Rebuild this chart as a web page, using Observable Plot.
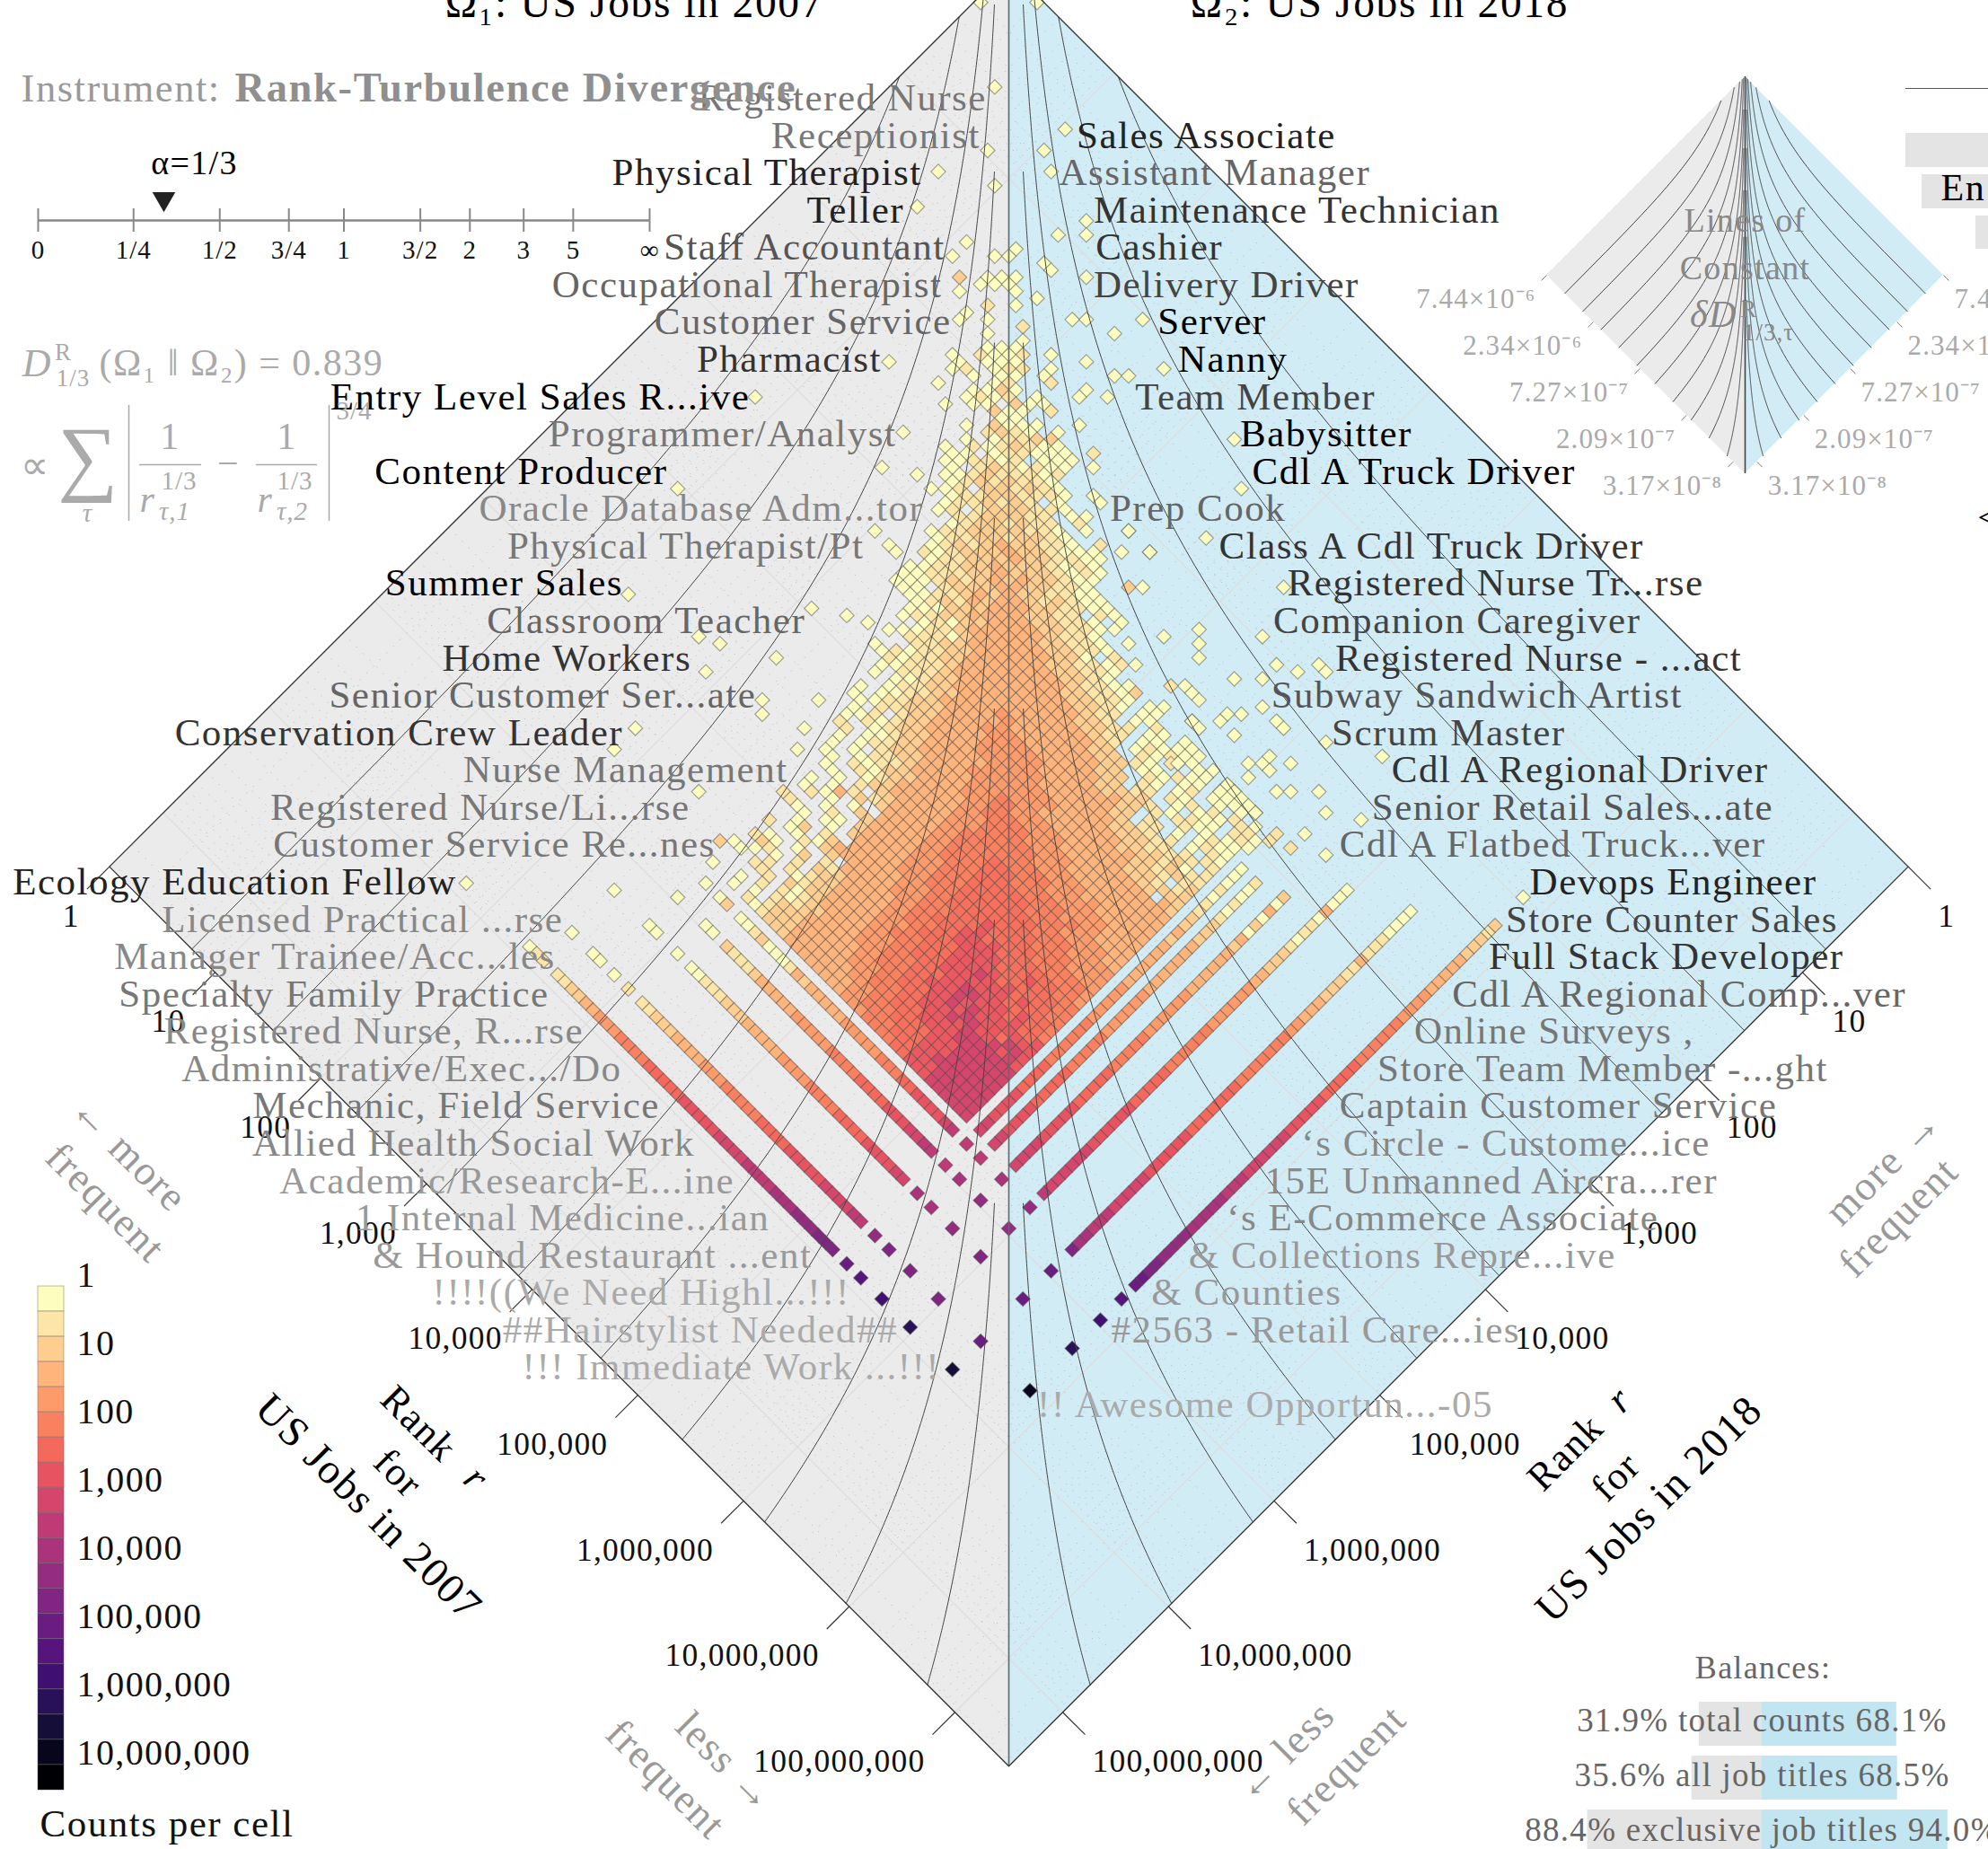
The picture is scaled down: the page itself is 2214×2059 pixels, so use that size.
<!DOCTYPE html>
<html><head><meta charset="utf-8">
<style>
html,body{margin:0;padding:0;background:#fff;overflow:hidden}
svg text{letter-spacing:.035em}
</style>
<script src="https://cdn.jsdelivr.net/npm/d3@7"></script>
<script src="https://cdn.jsdelivr.net/npm/@observablehq/plot@0.6"></script>
</head><body>
<script>
// ---------- geometry of the log-log rank plane (15 bins per decade) ----------
const maxLog = 8.51, binsPerDecade = 15;
// ---------- counts-per-cell levels read by rows: [rank-sum bin, first rank-difference bin, levels] ----------
const rows = [
[5,-4,"0...0"],[17,-2,"0"],[23,8,"0"],[26,-3,"0...0"],[29,-10,"0.......0"],[31,-2,"0"],[34,-13,"0"],[36,11,"0"],[38,7,"0.0"],[39,-6,"0"],[40,1,"0"],[41,-8,"0..00"],[42,5,"0"],[43,6,"0"],
[44,-7,"2.000....0"],[45,-4,"000"],[46,-7,"0...0"],[47,4,"0"],[48,-3,"1.0"],[49,-6,"0"],[50,-7,"0.0.....00...0"],[51,2,"1"],[52,-3,"0........0"],[53,2,"0"],[54,-3,"000"],[55,-8,"0.1001.0"],
[56,-17,"0....0.000....0"],[57,-8,"01.011.0.......0"],[58,-5,"0.00.0....00"],[59,-10,"0...01..1"],[60,-5,"0020....0"],[61,-6,"0101.0..0.0"],[62,-9,"0.00.200"],[63,-2,"200.1"],[64,-1,"00"],[65,-6,"0.2000..0"],
[66,-15,"0.....1210.0"],[67,-6,"0.01122"],[68,-9,"0.1012100"],[69,-8,"00.011000.1"],[70,-9,"001101.000"],[71,-18,"0....0.1210100.0"],[72,-13,"0.001211101"],[73,-8,"01212110"],[74,-11,"001.221210"],
[75,-8,"011221110.0"],[76,-9,"0112121.0..0"],[77,-10,"01.1222110"],[78,-7,"1122211.00"],[79,-8,"01221211.1"],[80,-19,"0...0112222110.0..0"],[81,-10,"0112212210"],[82,-17,"0..01212322110.1"],
[83,-16,"0.1012223221000.0.0"],[84,-11,"0112223221100"],[85,-14,"00112232221010"],[86,-15,"001112232221010"],[87,-16,"000121232322100"],[88,-15,"00.12223322110..20"],[89,-14,"00112323221100"],
[90,-13,"01213233212100"],[91,-14,"000222333221100"],[92,-15,"0112233332211.10"],[93,-12,"0102234322110.0"],[94,-17,"00011233333221100"],[95,-14,"11102333332110"],[96,-19,"0..11223334322110"],
[97,-18,"01011223343322110"],[98,-17,"101122344333220.1"],[99,-18,"0011123334432211010"],[100,-19,"0.1112334443322110"],[101,-16,"0012233443332210"],[102,-21,"0.011223344433321100"],
[103,-22,"0.0011223344433221102"],[104,-21,"00112233444443322110"],[105,-22,"0.112223344444332210.00"],[106,-23,"001.1223344544333211.00"],[107,-24,"1.101223344454433221.00..0"],[108,-23,"1.0122334455444332211.1"],
[109,-24,"0.0012233445544433211.00"],[110,-25,"0.0112233445554443321.00.0"],[111,-26,"0.0.12233445555444322.01000"],[112,-25,"0.0112233445555443322.10100"],[113,-26,"0.1011233444555544332210.10"],
[114,-25,"0.1022334455555443322.00..0"],[115,-28,"0.0.0122334455555443322.10100"],[116,-29,"0.0.1223344455555443322.10.00.0"],[117,-32,"1.1031.23334455555544332211.01.00"],[118,-31,"1..0.212333445565554443322.10.00"],
[119,-30,"0.0.0.23334455665554433221.01.00"],[120,-29,"0.1.2.333445566554443322.10.01.10"],[121,-34,"1.0.00.2333445556655444332.1.11001"],[122,-31,"02.0.2334445556665544332211.100.10"],
[123,-36,"10.0.1.2334445566666554433221.0.0.11"],[124,-35,"20.102.33444556666655544332211.01010"],[125,-36,"01.0.2333444556666665544332211.01000"],[126,-33,"0.2.23344455666666655443332211.10"],
[127,-36,"11.1.1.344455566676655544332212110"],[128,-35,"1.1.213344555666776655443322120.1"],[129,-38,"0.1.012233445566677766554433221211"],[130,-39,"0.1.212233445566677766655443321.11"],
[131,-36,"0.102233445556677776655544332212"],[132,-37,"1.101233344556677777665544333.22"],[133,-36,"0121233344556677777766555443332"],[134,-35,"122223344556667777766655443332"],
[135,-34,"22233444556677777776655544433"],[136,-33,"2233344555667778777666554433"],[137,-32,"233344556677788777665554433"],[138,-31,"33344555667788777766554433"],[139,-30,"3344455667778887766655444"],
[140,-29,"334455667778887776655544"],[141,-28,"34455666778888776665544"],[142,-27,"4445566778888777665554"],[143,-26,"445566777889877766555"],[144,-25,"44566778888877876655"],[145,-24,"4556677889888777665"],
[146,-23,"556677889988777665"],[147,-22,"56677889888787765"],[148,-21,"5667788898877766"],[149,-20,"667788998878766"],[150,-19,"66778889888776"],[151,-18,"6777889888776"],[152,-17,"677889987876"],
[153,-16,"77888999988"],[154,-15,"7888999898"],[155,-14,"889999998"],[156,-13,"88999998"],[157,-12,"8999999"],[158,-11,"999999"],[159,-10,"99999"],[160,-9,"9999"],[161,-8,"999"],[162,-7,"99"],[163,-6,"9"]
];
// read level -> colour-bar position, calibrated against the colour bar
const rowLevelStep = [0,1,2,3,3,4,5,5.7,6.7,8];
// isolated cells: [rank-difference bin, rank-sum bin, level]
const looseCells = [
[-36,61,0],[-47,74,0],[-54,89,0],[-28,91,0],[-23,92,0],[-20,93,0],[-44,95,0],[-41,96,0],[-33,98,0],[-43,100,0],[-35,104,0],[-35,106,0],[-27,104,0],[-53,108,0],[-29,108,0],[-56,111,0],[-30,111,0],[-44,117,0],
[-42,127,0],[-43,130,0],[-39,124,0],[-41,124,2],[-38,125,0],
[32,67,0],[33,74,0],[28,81,0],[17,80,0],[20,83,0],[39,88,0],[22,95,0],[27,94,0],[27,96,0],[27,98,0],[36,95,0],[17,96,0],[38,99,0],[41,100,0],[44,99,0],[45,100,0],[32,101,0],[36,101,0],
[25,102,0],[23,102,1],[26,103,0],[27,104,0],[36,105,0],[33,106,0],[31,106,0],[30,107,0],[38,107,0],[39,108,0],[26,107,0],[27,108,0],[32,109,0],[45,110,0],[34,113,0],[36,113,0],[40,113,0],[37,112,0],[37,114,0],[34,115,0],
[38,117,0],[40,117,0],[31,116,0],[30,117,0],[32,117,0],[33,118,0],[31,118,0],[34,119,0],[32,119,0],[33,120,0],[35,120,0],[30,121,0],[29,114,0],[28,115,0],[23,113,1],[24,113,0]
];
// tied-rank stripes. rank 2018 bin fixed: [bin, first rank-2007 bin, levels]
const stripes2018 = [
[103,26,"0........011"],[103,39,"1122334445555666667777788889999aaabbbccc"],
[99,37,"0..00.0.1"],[99,47,"11222333344455555666677777888899"],
[93,37,"0....00..0"],[93,48,"0011122233333444455556666777788"],
[89,42,"0...00"],[89,49,"211123333344444555566667778899"],
[86,45,"02"],[86,48,"0012000132333334444455566777789"]
];
// rank 2007 bin fixed: [bin, first rank-2018 bin, levels]
const stripes2007 = [
[102,29,"0"],[102,33,"212223333344445555556666677777888888999aaaaabbbbccdd"],
[95,38,"0000111311222333445555555666666677777788888999aa"],
[89,41,"00030110122233444444555555666667777778888889"],
[85,35,"0....0...."],[85,46,"203020323333334444445555566666777778888"],
[82,29,"0.......0..0.1."],[82,47,"10010122233333334444445555566666777788"],
[80,36,"0.....11...."],[80,47,"00010112232333333444445555556666777788"]
];
// cells tied in both ranks
const cornerBin2018 = [86,86,89,89,86,93,93,89,86,93,89,99,99,93,86,99,99,99,93,89,103,103,103,103,103,86,89,93,99];
const cornerBin2007 = [80,82,80,82,85,80,82,85,89,85,89,80,82,89,95,85,89,95,95,95,80,82,85,89,95,102,102,102,102];
const cornerLevel   = [ 9, 9, 9,10,10,10,10,11,11,11,11,11,12,12,12,12,12,13,13,13,13,14,15,16,17,14,15,16,18];

// job titles
const leftTitles = ["Registered Nurse","Receptionist","Physical Therapist","Teller","Staff Accountant","Occupational Therapist","Customer Service","Pharmacist","Entry Level Sales R...ive","Programmer/Analyst","Content Producer","Oracle Database Adm...tor","Physical Therapist/Pt","Summer Sales","Classroom Teacher","Home Workers","Senior Customer Ser...ate","Conservation Crew Leader","Nurse Management","Registered Nurse/Li...rse","Customer Service Re...nes","Ecology Education Fellow","Licensed Practical ...rse","Manager Trainee/Acc...les","Specialty Family Practice","Registered Nurse, R...rse","Administrative/Exec.../Do","Mechanic, Field Service","Allied Health Social Work","Academic/Research-E...ine","1 Internal Medicine...ian","& Hound Restaurant ...ent","!!!!((We Need Highl...!!!","##Hairstylist Needed##","!!! Immediate Work ...!!!"];
const leftBins = [-1.6,-2.5,-10.8,-13.3,-7.5,-7.9,-6.6,-16.5,-35.2,-14.4,-46.9,-10.6,-19,-53.2,-27.3,-43.5,-34.3,-53.2,-29.8,-43.7,-40.1,-76.8,-61.7,-62.8,-63.7,-58.8,-53.4,-48,-43,-37.4,-32.4,-26.4,-21,-14.2,-8.2];
const leftInk = ["#777","#777","#222","#222","#555","#666","#666","#333","#000","#777","#000","#888","#777","#000","#666","#333","#666","#333","#777","#777","#777","#222","#888","#888","#777","#888","#888","#777","#888","#999","#999","#999","#aaa","#aaa","#aaa"];
const rightRows = [1,2,3,4,5,6,7,8,9,10,11,12,13,14,15,16,17,18,19,20,21,22,23,24,25,26,27,28,29,30,31,32,33,35];
const rightTitles = ["Sales Associate","Assistant Manager","Maintenance Technician","Cashier","Delivery Driver","Server","Nanny","Team Member","Babysitter","Cdl A Truck Driver","Prep Cook","Class A Cdl Truck Driver","Registered Nurse Tr...rse","Companion Caregiver","Registered Nurse - ...act","Subway Sandwich Artist","Scrum Master","Cdl A Regional Driver","Senior Retail Sales...ate","Cdl A Flatbed Truck...ver","Devops Engineer","Store Counter Sales","Full Stack Developer","Cdl A Regional Comp...ver","Online Surveys ,","Store Team Member -...ght","Captain Customer Service","‘s Circle - Custome...ice","15E Unmanned Aircra...rer","‘s E-Commerce Associate","& Collections Repre...ive","& Counties","#2563 - Retail Care...ies","!! Awesome Opportun...-05"];
const rightBins = [8.1,5.6,10.5,10.8,10.5,19.6,22.5,16.4,31.3,33,12.8,28.3,38,36,44.8,35.7,44.3,52.8,50,45.4,72.4,69,66.6,61.4,56,50.8,45.4,40,34.8,29.4,24,18.7,13,2.5];
const rightInk = ["#222","#666","#333","#333","#444","#000","#000","#444","#000","#000","#666","#333","#333","#444","#333","#555","#444","#333","#555","#666","#222","#444","#333","#666","#777","#777","#777","#888","#888","#888","#999","#999","#999","#aaa"];

// axes and legends
const rankTicks = [0,1,2,3,4,5,6,7,8];
const rankTickLabels = ["1","10","100","1,000","10,000","100,000","1,000,000","10,000,000","100,000,000"];
const contourEnds = [0.78,1.55,2.33,3.1,3.87,4.65,5.42,6.2,6.97,7.74];
const insetTicks = [0,2,4,6,8];
const insetLabels = ["7.44×10⁻⁶","2.34×10⁻⁶","7.27×10⁻⁷","2.09×10⁻⁷","3.17×10⁻⁸"];
const colorLabels = ["1","10","100","1,000","10,000","100,000","1,000,000","10,000,000"];
const alphaLabels = ["0","1/4","1/2","3/4","1","3/2","2","3","5","∞"];
const alphaPos = [0,0.156,0.297,0.41,0.5,0.625,0.706,0.794,0.875,1];
const balanceNames = ["total counts","all job titles","exclusive job titles"];
const balanceLeft = [31.9,35.6,88.4];
const balanceRight = [68.1,68.5,94.0];

// ---------- helpers ----------
const PX = 117.7, CX = 1123, TOP = -37;
const X = p => (p - CX) / PX, Y = p => (p - TOP) / PX;
const font = "Liberation Serif";
const note = (t, px, py, o = {}) => Plot.text([t], {text: d => d, frameAnchor: "top-left", dx: px, dy: py, textAnchor: "middle", lineAnchor: "middle", fontFamily: font, fontSize: 43, fill: "#000", ...o});

// ---------- tables built from the arrays ----------
const cells = [];
for (const [s, from, t] of rows) [...t].forEach((c, k) => { if (c !== ".") cells.push({n: from + 2 * k, s, level: rowLevelStep[+c]}); });
for (const [n, s, level] of looseCells) cells.push({n, s, level});
for (const [i, from, t] of stripes2018) [...t].forEach((c, k) => { if (c !== ".") { const j = from + k; cells.push({n: j - i, s: i + j + 1, level: parseInt(c, 36)}); } });
for (const [j, from, t] of stripes2007) [...t].forEach((c, k) => { if (c !== ".") { const i = from + k; cells.push({n: j - i, s: i + j + 1, level: parseInt(c, 36)}); } });
cornerLevel.forEach((level, k) => { const i = cornerBin2018[k], j = cornerBin2007[k]; cells.push({n: j - i, s: i + j + 1, level}); });

// lines of constant rank-turbulence contribution for alpha = 1/3
function isoLine(end, minGap) {
  const C = 10 ** (-end / 3) - 10 ** (-maxLog / 3), pts = [];
  for (let a = 0; a <= end + 1e-9; a += 0.01) {
    const b = Math.min(maxLog, -3 * Math.log10(10 ** (-a / 3) - C));
    if (b - a >= minGap) pts.push({gap: b - a, sum: a + b});
  }
  return pts;
}
const linesFor = (minGap, fx, fy) => {
  const out = [];
  contourEnds.forEach((e, k) => { for (const sign of [-1, 1]) for (const p of isoLine(e, minGap)) out.push({id: (k + 1) * sign, x: fx(sign * p.gap), y: fy(p.sum)}); });
  return out;
};
const mainLines = linesFor(0.136, u => u, v => v);
const INS = 221 / (maxLog * PX), insX = u => X(1943) + u * INS, insY = v => Y(85) + v * INS;
const insetLines = linesFor(0.06, insX, insY);

// grid
const majors = d3.range(0, 9), minors = [];
for (const k of d3.range(0, 9)) for (const m of d3.range(2, 10)) { const r = k + Math.log10(m); if (r < maxLog) minors.push(r); }
const gridLines = rs => rs.flatMap(r => [{x1: r, y1: r, x2: r - maxLog, y2: r + maxLog}, {x1: -r, y1: r, x2: maxLog - r, y2: r + maxLog}]);
const tri = sign => [{u: sign * maxLog, a: maxLog, b: maxLog}, {u: 0, a: 0, b: 2 * maxLog}];
const triInset = sign => tri(sign).map(d => ({u: insX(d.u), a: insY(d.a), b: insY(d.b)}));
const edge = [[-maxLog, maxLog], [0, 0], [maxLog, maxLog], [0, 2 * maxLog], [-maxLog, maxLog]].map(([x, y]) => ({x, y}));
const labelY = k => (18.57 + 5.298 * k) / binsPerDecade;
const gray = "#aaa";

const plot = Plot.plot({
  width: 2214, height: 2059, margin: 0,
  x: {domain: [X(0), X(2214)], range: [0, 2214], axis: null},
  y: {domain: [Y(0), Y(2059)], range: [0, 2059], axis: null},
  color: {type: "linear", domain: [0, 19], scheme: "magma", reverse: true},
  style: {background: "#fff"},
  marks: [
    // main backgrounds and grid
    Plot.area(tri(-1), {x1: "u", y1: "a", y2: "b", fill: "#ebebeb"}),
    Plot.area(tri(1), {x1: "u", y1: "a", y2: "b", fill: "#d2ecf5"}),
    Plot.link(gridLines(minors), {x1: "x1", y1: "y1", x2: "x2", y2: "y2", stroke: "#999", strokeOpacity: 0.55, strokeWidth: 1, strokeDasharray: "1.5 9"}),
    Plot.link(gridLines(majors), {x1: "x1", y1: "y1", x2: "x2", y2: "y2", stroke: "#ddd", strokeWidth: 1.2}),
    // cells
    Plot.dot(cells, {x: d => d.n / binsPerDecade, y: d => d.s / binsPerDecade, symbol: "diamond2", r: 7.3, fill: "level", stroke: "#4d4d4d", strokeOpacity: 0.5, strokeWidth: 1.2}),
    // contours, spine, frame, ticks
    Plot.line(mainLines, {x: "x", y: "y", z: "id", stroke: "#444", strokeWidth: 1}),
    Plot.ruleX([0], {y1: 0, y2: 2 * maxLog, stroke: "#5a6a70", strokeWidth: 1.6}),
    Plot.line(edge, {x: "x", y: "y", stroke: "#333", strokeWidth: 1.3}),
    Plot.link(rankTicks, {x1: r => r - maxLog, y1: r => r + maxLog, x2: r => r - maxLog - 0.212, y2: r => r + maxLog + 0.212, stroke: "#333", strokeWidth: 1.2}),
    Plot.link(rankTicks, {x1: r => maxLog - r, y1: r => r + maxLog, x2: r => maxLog - r + 0.212, y2: r => r + maxLog + 0.212, stroke: "#333", strokeWidth: 1.2}),
    Plot.text(rankTicks, {x: r => r - maxLog, y: r => r + maxLog, dx: -33, dy: 55, text: (r, i) => rankTickLabels[i], textAnchor: "end", fontFamily: font, fontSize: 35.5, fill: "#111"}),
    Plot.text(rankTicks, {x: r => maxLog - r, y: r => r + maxLog, dx: 33, dy: 55, text: (r, i) => rankTickLabels[i], textAnchor: "start", fontFamily: font, fontSize: 35.5, fill: "#111"}),
    // job titles
    Plot.text(leftTitles, {x: (d, i) => leftBins[i] / binsPerDecade, y: (d, i) => labelY(i), dx: -12, text: d => d, textAnchor: "end", fontFamily: font, fontSize: 43, fill: {value: (d, i) => leftInk[i], scale: null}}),
    Plot.text(rightTitles, {x: (d, i) => rightBins[i] / binsPerDecade, y: (d, i) => labelY(rightRows[i]), dx: 12, text: d => d, textAnchor: "start", fontFamily: font, fontSize: 43, fill: {value: (d, i) => rightInk[i], scale: null}}),
    // titles
    note("Ω₁: US Jobs in 2007", 706, 3, {fontSize: 47.5}),
    note("Ω₂: US Jobs in 2018", 1536, 3, {fontSize: 47.5}),
    note("Instrument:", 23, 98, {textAnchor: "start", fill: "#999", fontSize: 44.5}),
    note("Rank-Turbulence Divergence", 261, 98, {textAnchor: "start", fill: "#8f8f8f", fontSize: 46.5, fontWeight: "bold"}),
    // alpha ruler
    Plot.ruleY([0], {x1: X(42), x2: X(723), y: Y(245), stroke: "#888", strokeWidth: 2.5}),
    Plot.ruleX(alphaPos, {x: p => X(42 + 681 * p), y1: Y(232), y2: Y(258), stroke: "#888", strokeWidth: 2}),
    Plot.text(alphaLabels, {x: (d, i) => X(42 + 681 * alphaPos[i]), y: Y(278), text: d => d, fontFamily: font, fontSize: 29, fill: "#111"}),
    Plot.dot([1 / 3], {x: X(182), y: Y(221), symbol: "triangle", r: 9.5, fill: "#222", rotate: 180}),
    note("α=1/3", 216, 181, {fontSize: 38}),
    // divergence formula
    note("D", 41, 404, {fill: gray, fontStyle: "italic", fontSize: 44}),
    note("R", 70, 392, {fill: gray, fontSize: 27}),
    note("1/3", 81, 421, {fill: gray, fontSize: 27}),
    note("(Ω₁ ‖ Ω₂) = 0.839", 110, 404, {fill: gray, textAnchor: "start", fontSize: 42}),
    note("∝", 39, 518, {fill: gray, fontSize: 44}),
    note("∑", 99, 509, {fill: gray, fontSize: 94}),
    note("τ", 97, 571, {fill: gray, fontSize: 29, fontStyle: "italic"}),
    Plot.ruleX([X(143), X(366)], {y1: Y(451), y2: Y(580), stroke: gray, strokeWidth: 1.5}),
    note("1", 189, 486, {fill: gray, fontSize: 42}),
    note("1", 319, 486, {fill: gray, fontSize: 42}),
    note("−", 254, 516, {fill: gray, fontSize: 42}),
    Plot.ruleY([0], {x1: X(155), x2: X(224), y: Y(517), stroke: gray, strokeWidth: 1.5}),
    Plot.ruleY([0], {x1: X(285), x2: X(353), y: Y(517), stroke: gray, strokeWidth: 1.5}),
    note("r", 164, 556, {fill: gray, fontSize: 42, fontStyle: "italic"}),
    note("r", 295, 556, {fill: gray, fontSize: 42, fontStyle: "italic"}),
    note("1/3", 199, 535, {fill: gray, fontSize: 29}),
    note("1/3", 328, 535, {fill: gray, fontSize: 29}),
    note("τ,1", 194, 569, {fill: gray, fontSize: 29, fontStyle: "italic"}),
    note("τ,2", 325, 569, {fill: gray, fontSize: 29, fontStyle: "italic"}),
    note("3/4", 394, 457, {fill: gray, fontSize: 29}),
    // inset
    Plot.area(triInset(-1), {x1: "u", y1: "a", y2: "b", fill: "#ebebeb"}),
    Plot.area(triInset(1), {x1: "u", y1: "a", y2: "b", fill: "#d2ecf5"}),
    Plot.line(insetLines, {x: "x", y: "y", z: "id", stroke: "#444", strokeWidth: 1}),
    Plot.ruleX([X(1943)], {y1: insY(0), y2: insY(2 * maxLog), stroke: "#444", strokeWidth: 1.6}),
    Plot.link(insetTicks, {x1: r => insX(r - maxLog), y1: r => insY(r + maxLog), x2: r => insX(r - maxLog) - 0.05, y2: r => insY(r + maxLog) + 0.05, stroke: "#777", strokeWidth: 1}),
    Plot.link(insetTicks, {x1: r => insX(maxLog - r), y1: r => insY(r + maxLog), x2: r => insX(maxLog - r) + 0.05, y2: r => insY(r + maxLog) + 0.05, stroke: "#777", strokeWidth: 1}),
    Plot.text(insetTicks, {x: r => insX(r - maxLog), y: r => insY(r + maxLog), dx: -12, dy: 27, text: (r, i) => insetLabels[i], textAnchor: "end", fontFamily: font, fontSize: 31, fill: gray}),
    Plot.text(insetTicks, {x: r => insX(maxLog - r), y: r => insY(r + maxLog), dx: 12, dy: 27, text: (r, i) => insetLabels[i], textAnchor: "start", fontFamily: font, fontSize: 31, fill: gray}),
    note("Lines of", 1943, 245, {fill: "#888", fontSize: 38}),
    note("Constant", 1943, 298, {fill: "#888", fontSize: 38}),
    note("δD", 1908, 350, {fill: "#888", fontSize: 42, fontStyle: "italic"}),
    note("R", 1947, 344, {fill: "#888", fontSize: 27}),
    note("1/3,τ", 1969, 370, {fill: "#888", fontSize: 27}),
    // cut-off panel at the right edge
    Plot.ruleY([0], {x1: X(2122), x2: X(2214), y: Y(98), stroke: "#555", strokeWidth: 1.2}),
    Plot.rect([0], {x1: X(2122), x2: X(2214), y1: Y(148), y2: Y(186), fill: "#e4e4e4"}),
    Plot.rect([0], {x1: X(2140), x2: X(2214), y1: Y(194), y2: Y(232), fill: "#e4e4e4"}),
    Plot.rect([0], {x1: X(2200), x2: X(2214), y1: Y(240), y2: Y(277), fill: "#e4e4e4"}),
    note("En", 2161, 209, {textAnchor: "start", fontSize: 42}),
    note("<", 2202, 576, {textAnchor: "start", fontSize: 38}),
    // colour bar
    Plot.rect(d3.range(20), {x1: X(42), x2: X(71), y1: k => Y(1432 + k * 28.05), y2: k => Y(1432 + (k + 1) * 28.05), fill: k => k, stroke: "#666", strokeOpacity: 0.45}),
    Plot.text(colorLabels, {x: X(85), y: (d, i) => Y(1420 + 76 * i), text: d => d, textAnchor: "start", fontFamily: font, fontSize: 40, fill: "#111"}),
    note("Counts per cell", 44, 2031, {textAnchor: "start", fontSize: 43, fill: "#111"}),
    // axis titles
    note("Rank", 466, 1585, {rotate: 45, fontSize: 44}),
    note("r", 530, 1646, {rotate: 45, fontSize: 44, fontStyle: "italic"}),
    note("for", 443, 1640, {rotate: 45, fontSize: 44}),
    note("US Jobs in 2007", 410, 1678, {rotate: 45, fontSize: 47}),
    note("Rank", 1743, 1617, {rotate: -45, fontSize: 44}),
    note("r", 1803, 1558, {rotate: -45, fontSize: 44, fontStyle: "italic"}),
    note("for", 1799, 1644, {rotate: -45, fontSize: 44}),
    note("US Jobs in 2018", 1836, 1680, {rotate: -45, fontSize: 47}),
    note("← more", 143, 1284, {rotate: 45, fill: "#999", fontSize: 46}),
    note("frequent", 117, 1339, {rotate: 45, fill: "#999", fontSize: 46}),
    note("more →", 2097, 1299, {rotate: -45, fill: "#999", fontSize: 46}),
    note("frequent", 2114, 1355, {rotate: -45, fill: "#999", fontSize: 46}),
    note("less →", 808, 1962, {rotate: 45, fill: "#999", fontSize: 46}),
    note("frequent", 741, 1981, {rotate: 45, fill: "#999", fontSize: 46}),
    note("← less", 1430, 1950, {rotate: -45, fill: "#999", fontSize: 46}),
    note("frequent", 1499, 1965, {rotate: -45, fill: "#999", fontSize: 46}),
    // balances
    Plot.rect(balanceLeft, {x1: p => X(1962 - p * 2.2), x2: X(1962), y1: (p, i) => Y(1895 + 60 * i), y2: (p, i) => Y(1944 + 60 * i), fill: "#e4e4e4"}),
    Plot.rect(balanceRight, {x1: X(1962), x2: p => X(1962 + p * 2.2), y1: (p, i) => Y(1895 + 60 * i), y2: (p, i) => Y(1944 + 60 * i), fill: "#c1e6f2"}),
    Plot.text(balanceNames, {x: X(1962), y: (d, i) => Y(1916 + 61 * i), text: (d, i) => `${balanceLeft[i].toFixed(1)}% ${d} ${balanceRight[i].toFixed(1)}%`, fontFamily: font, fontSize: 37, fill: "#666"}),
    note("Balances:", 1963, 1857, {fill: "#666", fontSize: 36})
  ]
});
document.body.appendChild(plot);
</script>
</body></html>
